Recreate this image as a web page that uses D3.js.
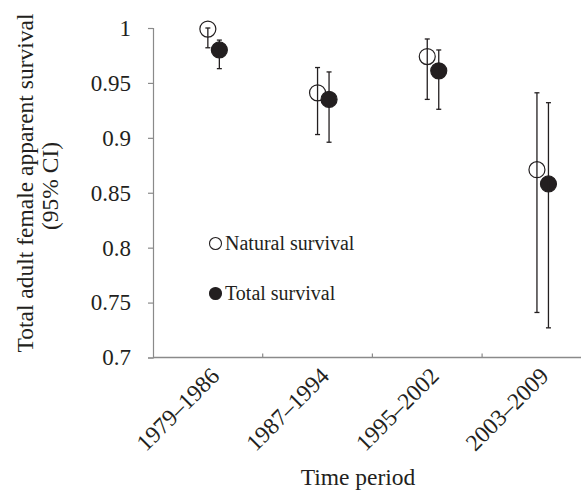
<!DOCTYPE html>
<html>
<head>
<meta charset="utf-8">
<script src="https://cdn.jsdelivr.net/npm/d3@7"></script>
<style>
  body { margin: 0; background: #fff; }
  text { font-family: "Liberation Serif", "Times New Roman", serif; fill: #231f20; }
</style>
</head>
<body>
<div id="chart"></div>
<script>
    // values
    const periods = ["1979–1986", "1987–1994", "1995–2002", "2003–2009"];
    const natural   = [0.999, 0.941, 0.974, 0.871];
    const naturalLo = [0.982, 0.903, 0.935, 0.741];
    const naturalHi = [1.000, 0.964, 0.990, 0.941];
    const total     = [0.980, 0.935, 0.961, 0.858];
    const totalLo   = [0.963, 0.896, 0.926, 0.727];
    const totalHi   = [0.989, 0.960, 0.980, 0.932];
    const yTicks = [0.7, 0.75, 0.8, 0.85, 0.9, 0.95, 1];

    function create_survival_chart(targetElementId) {
        const W = 581, H = 490;
        const left = 153, top = 28, bottom = 357.5;
        const ink = "#231f20", axisCol = "#8a8a8a";

        const svg = d3.select(`#${targetElementId}`).append("svg")
            .attr("width", W)
            .attr("height", H);

        // scales
        const x = d3.scaleBand()
            .domain(periods)
            .range([left, left + 4 * 109.7])
            .padding(0);
        const y = d3.scaleLinear()
            .domain([0.7, 1])
            .range([bottom, top]);
        const cx = (p) => x(p) + x.bandwidth() / 2;
        const shift = 11.5;

        // y axis
        svg.append("g")
            .attr("transform", `translate(${left},0)`)
            .call(d3.axisLeft(y)
                .tickValues(yTicks)
                .tickFormat(d => `${+d.toFixed(2)}`)
                .tickSize(5)
                .tickPadding(17))
            .call(g => g.select(".domain").attr("stroke", axisCol).attr("stroke-width", 1.2))
            .call(g => g.selectAll("line").attr("stroke", axisCol).attr("stroke-width", 1.2))
            .call(g => g.selectAll("text")
                .attr("fill", ink)
                .style("font-family", "'Liberation Serif', serif")
                .style("font-size", "23px"));

        // x axis: line with ticks at the category boundaries, pointing inward
        const xg = svg.append("g").attr("transform", `translate(0,${bottom})`);
        xg.append("line")
            .attr("x1", left).attr("x2", W)
            .attr("stroke", axisCol).attr("stroke-width", 1.5);
        xg.selectAll(".xtick")
            .data(periods.slice(1))
            .enter()
            .append("line")
                .attr("class", "xtick")
                .attr("x1", d => x(d)).attr("x2", d => x(d))
                .attr("y1", 0).attr("y2", -4)
                .attr("stroke", axisCol).attr("stroke-width", 1.2);
        xg.selectAll(".xlab")
            .data(periods)
            .enter()
            .append("text")
                .attr("class", "xlab")
                .attr("text-anchor", "end")
                .attr("transform", d => `translate(${cx(d) + 13},${20}) rotate(-45)`)
                .style("font-size", "23.5px")
                .text(d => d);

        // axis titles
        svg.append("text")
            .attr("x", 358).attr("y", 485)
            .attr("text-anchor", "middle")
            .style("font-size", "23.5px")
            .text("Time period");
        svg.append("text")
            .attr("transform", "translate(33,183) rotate(-90)")
            .attr("text-anchor", "middle")
            .style("font-size", "23.5px")
            .text("Total adult female apparent survival");
        svg.append("text")
            .attr("transform", "translate(58,186) rotate(-90)")
            .attr("text-anchor", "middle")
            .style("font-size", "23.5px")
            .text("(95% CI)");

        // one series: marker then error bar on top
        function drawSeries(vals, lo, hi, dx, filled) {
            const g = svg.append("g");
            g.selectAll("circle")
                .data(periods)
                .enter()
                .append("circle")
                    .attr("cx", (d) => cx(d) + dx)
                    .attr("cy", (d, i) => y(vals[i]))
                    .attr("r", 8)
                    .attr("fill", filled ? ink : "#fff")
                    .attr("stroke", ink)
                    .attr("stroke-width", 1.2);
            const bars = g.selectAll(".err")
                .data(periods)
                .enter()
                .append("g")
                    .attr("class", "err")
                    .attr("stroke", ink)
                    .attr("stroke-width", 1.3);
            bars.append("line")
                .attr("x1", d => cx(d) + dx).attr("x2", d => cx(d) + dx)
                .attr("y1", (d, i) => y(lo[i])).attr("y2", (d, i) => y(hi[i]));
            bars.append("line")
                .attr("x1", d => cx(d) + dx - 2.5).attr("x2", d => cx(d) + dx + 2.5)
                .attr("y1", (d, i) => y(lo[i])).attr("y2", (d, i) => y(lo[i]));
            bars.append("line")
                .attr("x1", d => cx(d) + dx - 2.5).attr("x2", d => cx(d) + dx + 2.5)
                .attr("y1", (d, i) => y(hi[i])).attr("y2", (d, i) => y(hi[i]));
        }
        drawSeries(natural, naturalLo, naturalHi, 0, false);
        drawSeries(total, totalLo, totalHi, shift, true);

        // legend
        const legend = [
            { label: "Natural survival", filled: false, cy: 243.5 },
            { label: "Total survival", filled: true, cy: 293.5 }
        ];
        const lg = svg.selectAll(".leg")
            .data(legend)
            .enter()
            .append("g")
                .attr("class", "leg");
        lg.append("circle")
            .attr("cx", 215.5)
            .attr("cy", d => d.cy)
            .attr("r", 6)
            .attr("fill", d => d.filled ? ink : "#fff")
            .attr("stroke", ink)
            .attr("stroke-width", 1.1);
        lg.append("text")
            .attr("x", 225)
            .attr("y", d => d.cy + 6)
            .style("font-size", "20px")
            .text(d => d.label);
    }

    create_survival_chart("chart");
</script>
</body>
</html>
